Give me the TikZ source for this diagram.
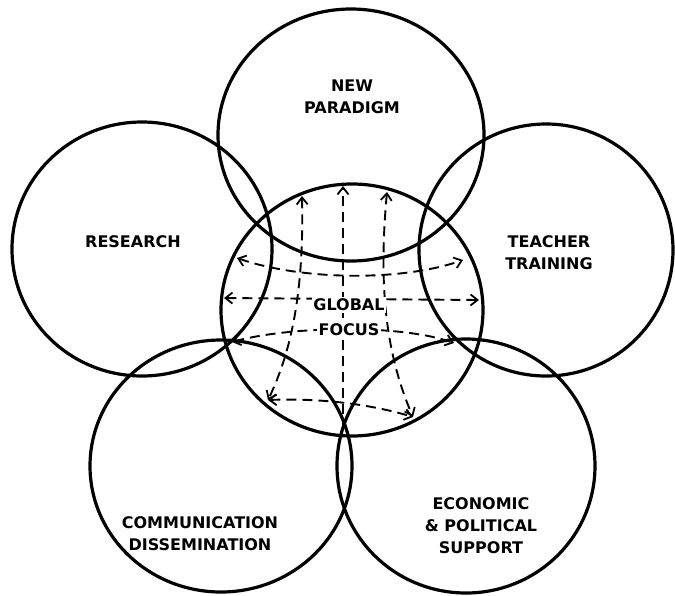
\documentclass[tikz,border=0pt]{standalone}
\usepackage{fontspec}
\setmainfont{DejaVu Sans}
\usetikzlibrary{arrows.meta}
\begin{document}
\begin{tikzpicture}[x=1pt,y=-1pt,
  ring/.style={line width=3.2pt},
  barb/.tip={Straight Barb[length=7pt,width=11pt,line width=1.8pt]},
  flow/.style={line width=1.9pt, dash pattern=on 10pt off 6pt, barb-barb},
  upflow/.style={line width=1.9pt, dash pattern=on 10pt off 6pt, -barb},
  label/.style={font=\bfseries\fontsize{16}{22}\selectfont, align=center, inner sep=1pt},
  hub/.style={label, fill=white, inner sep=1.5pt}]
\useasboundingbox (0,0) rectangle (675,595);

% ring centres
\coordinate (cT)  at (351,135);
\coordinate (cL)  at (142,249);
\coordinate (cR)  at (546,250);
\coordinate (cC)  at (352,310);
\coordinate (cLL) at (221,466);
\coordinate (cLR) at (466,466);

% the six rings
\draw[ring] (cT)  ellipse [x radius=133, y radius=126];
\draw[ring] (cL)  ellipse [x radius=130, y radius=127];
\draw[ring] (cR)  ellipse [x radius=127, y radius=126];
\draw[ring] (cC)  ellipse [x radius=131, y radius=126];
\draw[ring] (cLL) ellipse [x radius=131, y radius=126];
\draw[ring] (cLR) ellipse [x radius=129, y radius=127];

% ends of the flow lines on the central ring
\coordinate (tA) at (302,196);
\coordinate (tB) at (343,186);
\coordinate (tC) at (387,192);
\coordinate (lA) at (237,258);
\coordinate (rA) at (463,260);
\coordinate (lB) at (224,298);
\coordinate (rB) at (479,300);
\coordinate (lC) at (232,342);
\coordinate (rC) at (454,343);
\coordinate (bA) at (268,400);
\coordinate (bB) at (343,430);
\coordinate (bC) at (413,417);

% flow lines
\draw[flow] (tA) .. controls (304,290) and (292,350) .. (bA);
\draw[upflow] (bB) -- (tB);
\draw[flow] (tC) .. controls (379,280) and (384,350) .. (bC);
\draw[flow] (lA) .. controls (300,280) and (400,282) .. (rA);
\draw[flow] (lB) -- (rB);
\draw[flow] (lC) .. controls (290,326) and (400,324) .. (rC);
\draw[flow] (bA) .. controls (320,398) and (370,404) .. (bC);

% labels
\node[label] (np) at (352,97) {NEW\\PARADIGM};
\node[label] (rs) at (133,242) {RESEARCH};
\node[label] (tt) at (549,253) {TEACHER\\TRAINING};
\node[hub] (gl) at (349,305) {GLOBAL};
\node[hub] (fc) at (349,330) {FOCUS};
\node[label] (cd) at (200,534) {COMMUNICATION\\DISSEMINATION};
\node[label] (ep) at (481,526) {ECONOMIC\\\& POLITICAL\\SUPPORT};
\end{tikzpicture}
\end{document}
